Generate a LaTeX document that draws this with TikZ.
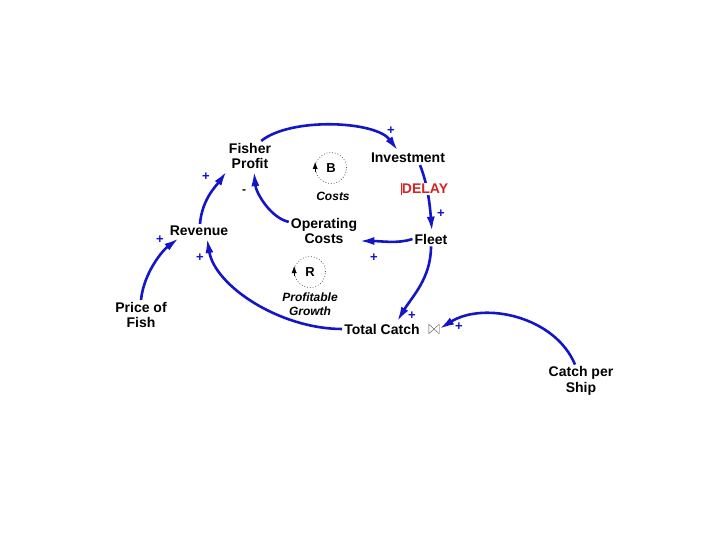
\documentclass[tikz,border=0pt]{standalone}
\usepackage{fontspec}
\setmainfont{Liberation Sans}
\usetikzlibrary{arrows.meta,positioning}
\definecolor{link}{HTML}{1414C8}
\definecolor{delayred}{HTML}{D42424}
\definecolor{loopgray}{HTML}{505050}
\tikzset{var/.style={align=center,inner sep=2pt,font=\bfseries\fontsize{14}{15.5}\selectfont},arr/.style={-{Latex[length=15pt,width=8pt]},line width=2.6pt,link},sgn/.style={inner sep=0pt,text=link,font=\bfseries\fontsize{13}{13}\selectfont},loopmark/.style={circle,draw=loopgray,dash pattern=on 0.8pt off 2pt,line width=0.7pt,minimum size=31pt,inner sep=0pt,font=\bfseries\fontsize{13}{13}\selectfont},looptxt/.style={align=center,font=\bfseries\itshape\fontsize{12}{14}\selectfont}}
\begin{document}
\begin{tikzpicture}[x=1pt,y=-1pt]
\useasboundingbox (0,0) rectangle (720,540);
\node[var] (profit) at (250,156) {Fisher\\Profit};
\node[var] (invest) at (408,158) {Investment};
\node[var] (fleet) at (431,239) {Fleet};
\node[var] (opcost) at (324,231) {Operating\\Costs};
\node[var] (revenue) at (199,231) {Revenue};
\node[var] (price) at (141,315) {Price of\\Fish};
\node[var] (catch) at (382,329) {Total Catch};
\node[var] (ship) at (581,381) {Catch per\\Ship};
\node[inner sep=0pt,minimum width=10pt,minimum height=9pt] (valve) at (434,329) {};
\draw[loopgray,thin] (valve.north west)--(valve.south east)--(valve.north east)--(valve.south west)--cycle;
% loops
\node[loopmark] (loopB) at (331,168) {B};
\draw[-{Latex[length=7pt,width=5pt]},black] ([yshift=-4pt]loopB.west)--([yshift=6pt]loopB.west);
\node[looptxt] (costs) at (333,196) {Costs};
\node[loopmark] (loopR) at (310,272) {R};
\draw[-{Latex[length=7pt,width=5pt]},black] ([yshift=-4pt]loopR.west)--([yshift=6pt]loopR.west);
\node[looptxt] (growth) at (310,304) {Profitable\\Growth};
% links
\draw[arr] ([xshift=-12pt]profit.north east) .. controls +(30,-24) and +(-22,-30) .. ([xshift=-10pt]invest.north);
\draw[arr] ([xshift=12pt]invest.south) .. controls +(8,20) and +(-2,-25) .. ([xshift=1pt]fleet.north);
\node[fill=white,inner sep=1pt,text=delayred,font=\bfseries\fontsize{14}{14}\selectfont] (delay) at (425,189) {DELAY};
\draw[delayred,thin] (delay.north west)--(delay.south west);
\draw[arr] (fleet.west) .. controls +(-15,5) and +(22,0) .. ([yshift=-10pt]opcost.east);
\draw[arr] ([yshift=-6pt]opcost.north west) .. controls +(-18,-4) and +(2,22) .. ([xshift=4pt]profit.south);
\draw[arr] ([xshift=1pt]revenue.north) .. controls +(2,-25) and +(-10,14) .. (profit.south west);
\draw[arr] (price.north) .. controls +(3,-28) and +(-16,12) .. ([xshift=-20pt]revenue.south);
\draw[arr] (catch.west) .. controls +(-62,0) and +(8,48) .. ([xshift=8pt]revenue.south);
\draw[arr] (fleet.south) .. controls +(0,32) and +(15,-25) .. ([xshift=15pt]catch.north);
\draw[arr] ([xshift=-6pt]ship.north) .. controls +(-20,-48) and +(45,-28) .. (valve.east);
% polarities
\node[sgn] (s1) at (391,131) {+};
\node[sgn] (s2) at (441,214) {+};
\node[sgn] (s3) at (374,258) {+};
\node[inner sep=0pt,font=\bfseries\fontsize{12}{12}\selectfont] (s4) at (244,192) {-};
\node[sgn] (s5) at (206,177) {+};
\node[sgn] (s6) at (160,240) {+};
\node[sgn] (s7) at (200,258) {+};
\node[sgn] (s8) at (412,316) {+};
\node[sgn] (s9) at (459,327) {+};
\end{tikzpicture}
\end{document}
